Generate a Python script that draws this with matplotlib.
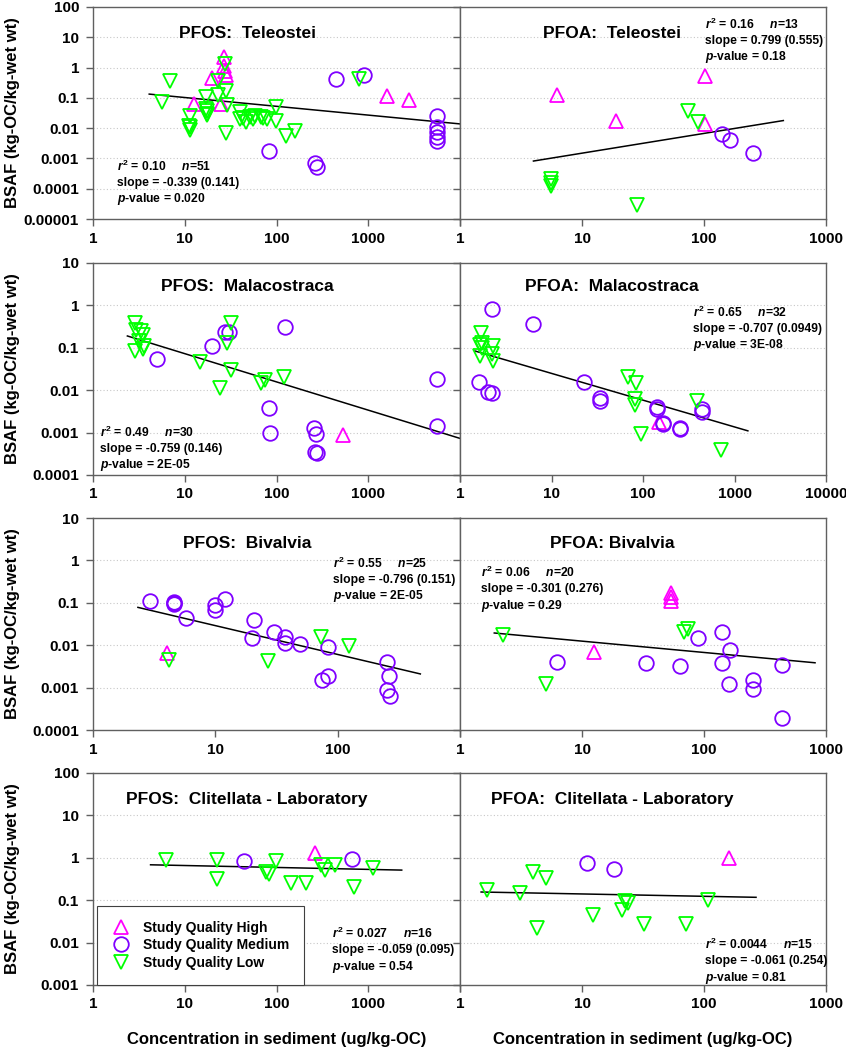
import numpy as np
import matplotlib.pyplot as plt
from matplotlib.ticker import FixedLocator, NullLocator, FuncFormatter

plt.rcParams['font.family'] = ['Liberation Sans', 'DejaVu Sans']
plt.rcParams['font.weight'] = 'bold'
plt.rcParams['mathtext.fontset'] = 'custom'
plt.rcParams['mathtext.rm'] = 'Liberation Sans:bold'
plt.rcParams['mathtext.it'] = 'Liberation Sans:bold:italic'
plt.rcParams['mathtext.bf'] = 'Liberation Sans:bold'

# ---- data (x = conc. in sediment, y = BSAF) ----
# PFOS Teleostei
pfos_tel_high_x = [12.6, 19.7, 25, 26.5, 27, 27.5, 28, 1610, 2800]
pfos_tel_high_y = [0.063, 0.47, 0.063, 2.2, 1.1, 0.75, 0.57, 0.117, 0.085]
pfos_tel_med_x = [83, 262, 275, 440, 900, 5660, 5660, 5660, 5660, 5660]
pfos_tel_med_y = [0.0018, 0.00071, 0.00053, 0.41, 0.57, 0.025, 0.0107, 0.0074, 0.0051, 0.0037]
pfos_tel_low_x = [5.7, 6.9, 11.5, 11.5, 11.5, 11.2, 17.2, 17.5, 17.5, 17.5, 17, 23, 23, 27.5, 28,
                  29, 28, 40, 40, 43, 47, 51, 55, 59, 67, 72, 78, 98, 98, 126, 158, 800]
pfos_tel_low_y = [0.071, 0.37, 0.026, 0.011, 0.0085, 0.012, 0.11, 0.038, 0.03, 0.028, 0.042, 0.12, 0.37,
                  1.3, 0.17, 0.06, 0.0068, 0.033, 0.02, 0.022, 0.016, 0.024, 0.02, 0.026, 0.024, 0.022,
                  0.02, 0.05, 0.017, 0.0053, 0.0083, 0.42]
pfos_tel_fit_x = [4.1, 10000]
pfos_tel_fit_y = [0.133, 0.0138]

# PFOA Teleostei
pfoa_tel_high_x = [6.2, 18.9, 102, 102]
pfoa_tel_high_y = [0.124, 0.017, 0.53, 0.014]
pfoa_tel_med_x = [140, 163, 254]
pfoa_tel_med_y = [0.0062, 0.0041, 0.0015]
pfoa_tel_low_x = [74, 89, 5.6, 5.6, 5.6, 28]
pfoa_tel_low_y = [0.038, 0.016, 0.00021, 0.00015, 0.00012, 2.9e-5]
pfoa_tel_fit_x = [4.0, 447]
pfoa_tel_fit_y = [0.00082, 0.0178]

# PFOS Malacostraca
pfos_mal_high_x = [533]
pfos_mal_high_y = [0.00089]
pfos_mal_med_x = [5.0, 19.9, 27.2, 30.4, 125, 83, 84, 255, 272, 262, 276, 5660, 5660]
pfos_mal_med_y = [0.054, 0.11, 0.23, 0.23, 0.31, 0.0039, 0.001, 0.0013, 0.00093, 0.00035, 0.00033, 0.018, 0.0014]
pfos_mal_low_x = [2.85, 2.96, 3.37, 3.5, 3.2, 2.85, 3.5, 3.6, 14.6, 24.5, 29, 32, 32, 67, 75, 120]
pfos_mal_low_y = [0.39, 0.27, 0.25, 0.2, 0.145, 0.085, 0.092, 0.11, 0.047, 0.011, 0.13, 0.39, 0.03,
                  0.015, 0.017, 0.02]
pfos_mal_fit_x = [2.37, 10000]
pfos_mal_fit_y = [0.19, 0.00073]

# PFOA Malacostraca
pfoa_mal_high_x = [148]
pfoa_mal_high_y = [0.0018]
pfoa_mal_med_x = [2.26, 6.25, 1.61, 2.04, 2.22, 22.4, 33.6, 33.6, 142, 142, 164, 164, 256, 256, 443, 443]
pfoa_mal_med_y = [0.84, 0.36, 0.016, 0.0092, 0.0084, 0.016, 0.0067, 0.0057, 0.0041, 0.0036, 0.0017,
                  0.0016, 0.0013, 0.0012, 0.0036, 0.003]
pfoa_mal_low_x = [1.7, 1.66, 1.73, 1.66, 2.28, 2.22, 2.32, 1.75, 68.5, 84.5, 82, 82, 94, 390, 720]
pfoa_mal_low_y = [0.22, 0.117, 0.097, 0.064, 0.11, 0.07, 0.05, 0.13, 0.02, 0.015, 0.0062, 0.0045,
                  0.00093, 0.0056, 0.00039]
pfoa_mal_fit_x = [1.46, 1400]
pfoa_mal_fit_y = [0.084, 0.0011]

# PFOS Bivalvia
pfos_biv_high_x = [4.0]
pfos_biv_high_y = [0.0066]
pfos_biv_med_x = [2.9, 4.56, 4.56, 4.6, 5.8, 9.9, 9.9, 11.9, 20.6, 19.9, 30, 36.9, 36.9, 48.9, 83, 75,
                  83, 253, 265, 253, 270]
pfos_biv_med_y = [0.111, 0.106, 0.093, 0.1, 0.045, 0.088, 0.068, 0.122, 0.04, 0.0146, 0.02, 0.0154,
                  0.0114, 0.0104, 0.0091, 0.0015, 0.0019, 0.004, 0.0019, 0.0009, 0.00065]
pfos_biv_low_x = [4.2, 27, 73.5, 123]
pfos_biv_low_y = [0.0044, 0.0042, 0.0154, 0.0098]
pfos_biv_fit_x = [2.33, 474]
pfos_biv_fit_y = [0.078, 0.0021]

# PFOA Bivalvia
pfoa_biv_high_x = [12.5, 54, 54, 54]
pfoa_biv_high_y = [0.0069, 0.17, 0.135, 0.11]
pfoa_biv_med_x = [6.2, 33.5, 63.6, 90, 140, 140, 163, 161, 254, 254, 433, 433]
pfoa_biv_med_y = [0.0041, 0.0038, 0.0032, 0.0146, 0.02, 0.0039, 0.0077, 0.0012, 0.0015, 0.00095,
                  0.0035, 0.000195]
pfoa_biv_low_x = [2.27, 5.07, 68, 74.5]
pfoa_biv_low_y = [0.017, 0.0012, 0.02, 0.024]
pfoa_biv_fit_x = [1.91, 813]
pfoa_biv_fit_y = [0.0194, 0.00385]

# PFOS Clitellata - Laboratory
pfos_cli_high_x = [261]
pfos_cli_high_y = [1.31]
pfos_cli_med_x = [44.7, 668]
pfos_cli_med_y = [0.85, 0.96]
pfos_cli_low_x = [6.2, 22.2, 22.2, 77, 82.4, 99, 145, 208, 308, 336, 432, 1135, 697]
pfos_cli_low_y = [0.88, 0.88, 0.31, 0.47, 0.41, 0.85, 0.25, 0.26, 0.67, 0.51, 0.67, 0.56, 0.21]
pfos_cli_fit_x = [4.24, 2316]
pfos_cli_fit_y = [0.684, 0.513]

# PFOA Clitellata - Laboratory
pfoa_cli_high_x = [160]
pfoa_cli_high_y = [1.0]
pfoa_cli_med_x = [10.9, 18.3]
pfoa_cli_med_y = [0.74, 0.53]
pfoa_cli_low_x = [1.65, 3.1, 4.0, 5.1, 4.25, 12.4, 21.1, 22.5, 24, 32.2, 71, 108]
pfoa_cli_low_y = [0.17, 0.15, 0.47, 0.33, 0.022, 0.045, 0.059, 0.094, 0.084, 0.028, 0.027, 0.1]
pfoa_cli_fit_x = [1.49, 267]
pfoa_cli_fit_y = [0.156, 0.117]

titles = ['PFOS:  Teleostei', 'PFOA:  Teleostei',
          'PFOS:  Malacostraca', 'PFOA:  Malacostraca',
          'PFOS:  Bivalvia', 'PFOA: Bivalvia',
          'PFOS:  Clitellata - Laboratory', 'PFOA:  Clitellata - Laboratory']
r2_vals = ['0.10', '0.16', '0.49', '0.65', '0.55', '0.06', '0.027', '0.0044']
n_vals = ['51', '13', '30', '32', '25', '20', '16', '15']
slope_vals = ['-0.339 (0.141)', '0.799 (0.555)', '-0.759 (0.146)', '-0.707 (0.0949)',
              '-0.796 (0.151)', '-0.301 (0.276)', '-0.059 (0.095)', '-0.061 (0.254)']
p_vals = ['0.020', '0.18', '2E-05', '3E-08', '2E-05', '0.29', '0.54', '0.81']
x_max = [1e4, 1e3, 1e4, 1e4, 1e3, 1e3, 1e4, 1e3]
row_ylim = [(1e-5, 100), (1e-4, 10), (1e-4, 10), (1e-3, 100)]
quality_labels = ['Study Quality High', 'Study Quality Medium', 'Study Quality Low']

panel_data = [
    (pfos_tel_high_x, pfos_tel_high_y, pfos_tel_med_x, pfos_tel_med_y, pfos_tel_low_x, pfos_tel_low_y, pfos_tel_fit_x, pfos_tel_fit_y),
    (pfoa_tel_high_x, pfoa_tel_high_y, pfoa_tel_med_x, pfoa_tel_med_y, pfoa_tel_low_x, pfoa_tel_low_y, pfoa_tel_fit_x, pfoa_tel_fit_y),
    (pfos_mal_high_x, pfos_mal_high_y, pfos_mal_med_x, pfos_mal_med_y, pfos_mal_low_x, pfos_mal_low_y, pfos_mal_fit_x, pfos_mal_fit_y),
    (pfoa_mal_high_x, pfoa_mal_high_y, pfoa_mal_med_x, pfoa_mal_med_y, pfoa_mal_low_x, pfoa_mal_low_y, pfoa_mal_fit_x, pfoa_mal_fit_y),
    (pfos_biv_high_x, pfos_biv_high_y, pfos_biv_med_x, pfos_biv_med_y, pfos_biv_low_x, pfos_biv_low_y, pfos_biv_fit_x, pfos_biv_fit_y),
    (pfoa_biv_high_x, pfoa_biv_high_y, pfoa_biv_med_x, pfoa_biv_med_y, pfoa_biv_low_x, pfoa_biv_low_y, pfoa_biv_fit_x, pfoa_biv_fit_y),
    (pfos_cli_high_x, pfos_cli_high_y, pfos_cli_med_x, pfos_cli_med_y, pfos_cli_low_x, pfos_cli_low_y, pfos_cli_fit_x, pfos_cli_fit_y),
    (pfoa_cli_high_x, pfoa_cli_high_y, pfoa_cli_med_x, pfoa_cli_med_y, pfoa_cli_low_x, pfoa_cli_low_y, pfoa_cli_fit_x, pfoa_cli_fit_y),
]

# ---- layout (pixel positions measured on the 846x1050 original) ----
W, H = 846, 1050
col_left = [93, 460]
col_width = [367, 366]
row_bottom = [219, 475, 730, 985]
panel_h = 212
# where the stats block starts (axes fraction, top line centre)
stats_pos = [(0.065, 0.25), (0.669, 0.92), (0.019, 0.203), (0.637, 0.769),
             (0.654, 0.788), (0.057, 0.745), (0.651, 0.245), (0.669, 0.193)]
title_pos = [(0.42, 0.877), (0.415, 0.877), (0.42, 0.887), (0.415, 0.887),
             (0.42, 0.882), (0.415, 0.882), (0.42, 0.877), (0.415, 0.877)]

colors = ['#ff00ff', '#7f00ff', '#00ff00']
markers = ['^', 'o', 'v']
msizes = [10, 10.5, 10]
spine_col = '#606060'


def fmt(v, pos):
    return np.format_float_positional(v, trim='-')


fig = plt.figure(figsize=(W / 100, H / 100), dpi=100)

for i, data in enumerate(panel_data):
    row, col = divmod(i, 2)
    ax = fig.add_axes([col_left[col] / W, 1 - row_bottom[row] / H,
                       col_width[col] / W, panel_h / H])
    ax.set_xscale('log')
    ax.set_yscale('log')
    ax.set_xlim(1, x_max[i])
    ax.set_ylim(*row_ylim[row])

    for q in range(3):
        lab = quality_labels[q] if i == 6 else None
        ax.plot(data[2 * q], data[2 * q + 1], linestyle='none', marker=markers[q],
                ms=msizes[q], mfc='none', mec=colors[q], mew=1.3, label=lab,
                clip_on=False, zorder=3)
    ax.plot(data[6], data[7], color='black', lw=1.1, zorder=2)

    xt = [10.0 ** k for k in range(0, int(round(np.log10(x_max[i]))) + 1)]
    lo, hi = row_ylim[row]
    yt = [10.0 ** k for k in range(int(round(np.log10(lo))), int(round(np.log10(hi))) + 1)]
    ax.xaxis.set_major_locator(FixedLocator(xt))
    ax.yaxis.set_major_locator(FixedLocator(yt))
    ax.xaxis.set_minor_locator(NullLocator())
    ax.yaxis.set_minor_locator(NullLocator())
    if col == 0:
        ax.xaxis.set_major_formatter(FuncFormatter(
            lambda v, p, m=x_max[i]: '' if v >= m * 0.999 else fmt(v, p)))
    else:
        ax.xaxis.set_major_formatter(FuncFormatter(fmt))
    ax.yaxis.set_major_formatter(FuncFormatter(fmt))
    ax.tick_params(which='both', direction='out', length=5, width=1, color=spine_col,
                   labelsize=11, pad=4)
    ax.tick_params(axis='y', pad=5, labelleft=(col == 0))
    for s in ax.spines.values():
        s.set_color(spine_col)
        s.set_linewidth(1)

    for g in yt[1:-1]:
        ax.axhline(g, color='#c8c8c8', lw=0.8, ls=(0, (1, 2)), zorder=1)

    ax.text(*title_pos[i], titles[i], transform=ax.transAxes, ha='center', va='center',
            fontsize=12.5, fontweight='bold')

    sx, sy = stats_pos[i]
    lines = [r'$r^2$ = ' + r2_vals[i] + r'     $n$=' + n_vals[i],
             'slope = ' + slope_vals[i],
             r'$p$-value = ' + p_vals[i]]
    for k, t in enumerate(lines):
        ax.text(sx, sy - k * 0.079, t, transform=ax.transAxes, ha='left', va='center',
                fontsize=8.7, fontweight='bold')

    if col == 0:
        ax.set_ylabel('BSAF (kg-OC/kg-wet wt)', fontsize=12, fontweight='bold')
        ax.yaxis.set_label_coords(-0.2, 0.5)
    if row == 3:
        ax.set_xlabel('Concentration in sediment (ug/kg-OC)', fontsize=12, fontweight='bold')
        ax.xaxis.set_label_coords(0.5, -0.222)

    if i == 6:
        leg = ax.legend(loc='lower left', bbox_to_anchor=(0.011, 0.0), borderaxespad=0,
                        fancybox=False, edgecolor='#404040', framealpha=1,
                        handlelength=1.2, handletextpad=1.0, borderpad=1.1,
                        labelspacing=0.25, prop={'weight': 'bold', 'size': 10})
        leg.get_frame().set_linewidth(0.8)

fig.savefig('out.png', dpi=100)
